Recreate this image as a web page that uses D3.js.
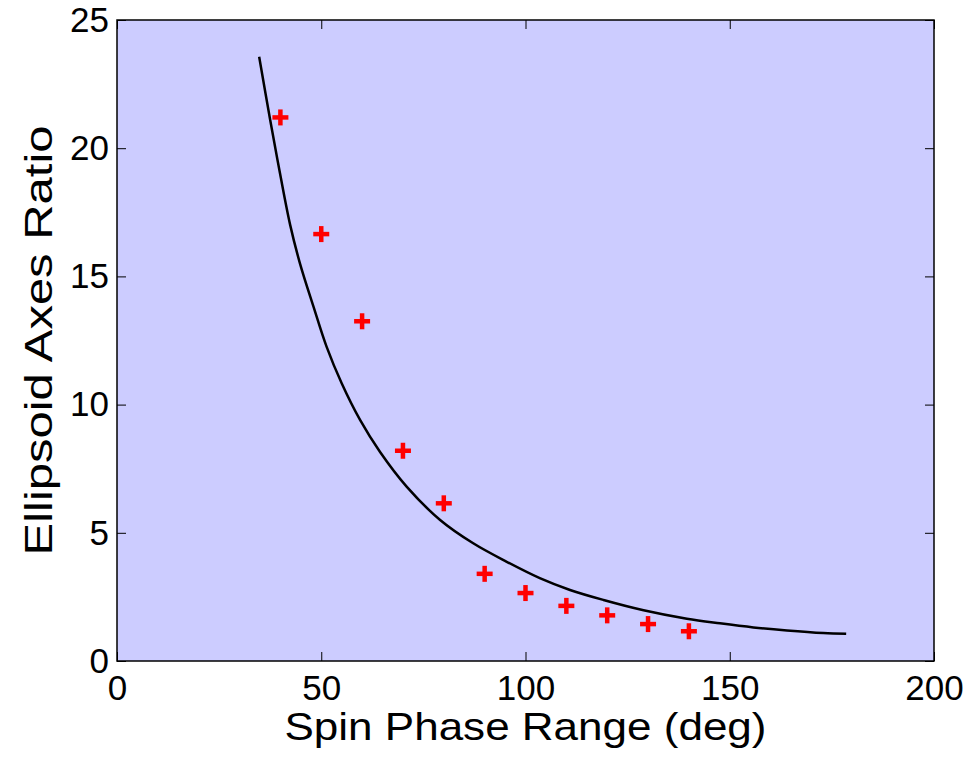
<!DOCTYPE html>
<html>
<head>
<meta charset="utf-8">
<script src="https://cdn.jsdelivr.net/npm/d3@7"></script>
<style>
  body { margin: 0; background: #fff; }
  text { font-family: "Liberation Sans", Arial, sans-serif; fill: #000; }
</style>
</head>
<body>
<div id="chart"></div>
<script>
// measured points (red crosses)
const phaseDeg = [40, 50, 60, 70, 80, 90, 100, 110, 120, 130, 140];
const axesRatio = [21.2, 16.65, 13.25, 8.2, 6.15, 3.4, 2.65, 2.15, 1.78, 1.44, 1.16];

// model curve
const curveDeg = [34.8, 37.5, 39.9, 42.4, 44.8, 48.1, 51.3, 55.0, 59.5, 64.4, 70.9, 79.1, 87.2, 95.4, 103.5, 110.9, 119.1, 128.9, 139.5, 147.6, 155.8, 164.0, 172.9, 178.5];
const curveRatio = [23.57, 21.1, 19.02, 17.0, 15.5, 13.82, 12.26, 10.83, 9.4, 8.15, 6.8, 5.5, 4.59, 3.87, 3.23, 2.77, 2.38, 1.98, 1.65, 1.47, 1.31, 1.19, 1.09, 1.06];

const xTicks = [0, 50, 100, 150, 200];
const yTicks = [0, 5, 10, 15, 20, 25];

const W = 971, H = 764;
const margin = {top: 20, right: 37, bottom: 103, left: 117};
const width = W - margin.left - margin.right;
const height = H - margin.top - margin.bottom;

const svg = d3.select("#chart").append("svg")
    .attr("width", W)
    .attr("height", H);

const g = svg.append("g")
    .attr("transform", `translate(${margin.left},${margin.top})`);

const x = d3.scaleLinear().domain([0, 200]).range([0, width]);
const y = d3.scaleLinear().domain([0, 25]).range([height, 0]);

// plot background
g.append("rect")
    .attr("width", width)
    .attr("height", height)
    .attr("fill", "#ccccff");

// axes, ticks point inward like matlab
const tickLen = 9;
g.append("g")
    .attr("transform", `translate(0,${height})`)
    .call(d3.axisBottom(x).tickValues(xTicks).tickSizeInner(-tickLen).tickSizeOuter(0).tickPadding(14))
    .call(a => a.select(".domain").remove());
g.append("g")
    .call(d3.axisTop(x).tickValues(xTicks).tickSizeInner(-tickLen).tickSizeOuter(0).tickFormat(""))
    .call(a => a.select(".domain").remove());
g.append("g")
    .call(d3.axisLeft(y).tickValues(yTicks).tickSizeInner(-tickLen).tickSizeOuter(0).tickPadding(8))
    .call(a => a.select(".domain").remove());
g.append("g")
    .attr("transform", `translate(${width},0)`)
    .call(d3.axisRight(y).tickValues(yTicks).tickSizeInner(-tickLen).tickSizeOuter(0).tickFormat(""))
    .call(a => a.select(".domain").remove());

g.selectAll(".tick line").attr("stroke", "#000").attr("stroke-width", 1);
g.selectAll(".tick text")
    .attr("font-size", 35)
    .attr("font-family", "Liberation Sans, Arial, sans-serif")
    .attr("fill", "#000");

// box
g.append("rect")
    .attr("width", width)
    .attr("height", height)
    .attr("fill", "none")
    .attr("stroke", "#000")
    .attr("stroke-width", 1.5);

// model curve
const line = d3.line()
    .x((d, i) => x(curveDeg[i]))
    .y(d => y(d))
    .curve(d3.curveCatmullRom);

g.append("path")
    .datum(curveRatio)
    .attr("d", line)
    .attr("fill", "none")
    .attr("stroke", "#000")
    .attr("stroke-width", 2.5);

// red crosses
const arm = 8;
const crosses = g.selectAll(".pt")
    .data(axesRatio)
    .enter()
    .append("g")
    .attr("class", "pt")
    .attr("transform", (d, i) => `translate(${x(phaseDeg[i])},${y(d)})`);

crosses.append("line")
    .attr("x1", -arm).attr("x2", arm)
    .attr("stroke", "#ff0000").attr("stroke-width", 4.5);
crosses.append("line")
    .attr("y1", -arm).attr("y2", arm)
    .attr("stroke", "#ff0000").attr("stroke-width", 4.5);

// axis titles
svg.append("text")
    .attr("x", margin.left + width / 2)
    .attr("y", 740)
    .attr("text-anchor", "middle")
    .attr("font-size", 39)
    .attr("textLength", 482)
    .attr("lengthAdjust", "spacingAndGlyphs")
    .text("Spin Phase Range (deg)");

svg.append("text")
    .attr("transform", `translate(52,${margin.top + height / 2}) rotate(-90)`)
    .attr("text-anchor", "middle")
    .attr("font-size", 39)
    .attr("textLength", 430)
    .attr("lengthAdjust", "spacingAndGlyphs")
    .text("Ellipsoid Axes Ratio");
</script>
</body>
</html>
